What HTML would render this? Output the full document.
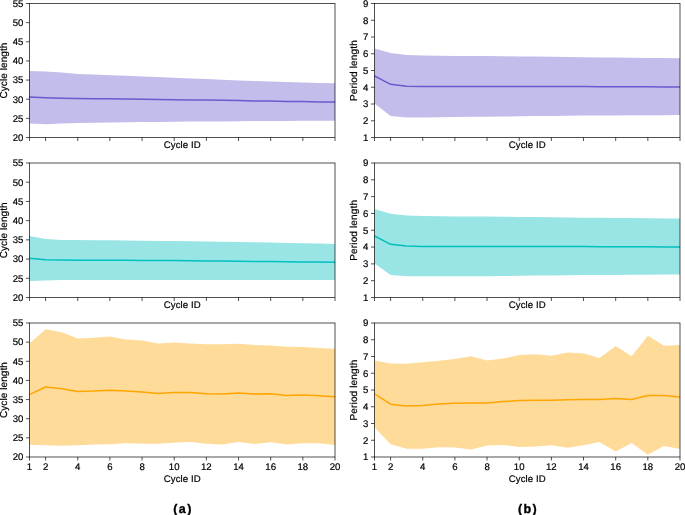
<!DOCTYPE html><html><head><meta charset="utf-8"><style>
html,body{margin:0;padding:0;background:#fff;width:685px;height:515px;overflow:hidden}
svg{display:block;will-change:transform}
text{font-family:"Liberation Sans", sans-serif;fill:#000;stroke:#000;stroke-width:0.2px;stroke-linejoin:round;text-rendering:geometricPrecision}
</style></head><body>
<svg width="685" height="515" viewBox="0 0 685 515">
<rect width="685" height="515" fill="#fff"/>
<polygon points="29.5,70.9 45.58,71.4 61.66,72.4 77.74,73.9 93.82,74.6 109.89,75.2 125.97,75.8 142.05,76.5 158.13,77.1 174.21,77.8 190.29,78.5 206.37,79.1 222.45,79.8 238.53,80.6 254.61,81.1 270.68,81.6 286.76,82 302.84,82.5 318.92,82.9 335,83.3 335,120.7 318.92,120.75 302.84,120.8 286.76,120.9 270.68,121 254.61,121.1 238.53,121.2 222.45,121.4 206.37,121.5 190.29,121.6 174.21,121.7 158.13,121.9 142.05,122 125.97,122.2 109.89,122.5 93.82,122.8 77.74,123.1 61.66,123.5 45.58,124.2 29.5,123.5" fill="#c3bdeb"/>
<clipPath id="cL0"><rect x="29.5" y="3.5" width="305.5" height="134"/></clipPath>
<polyline clip-path="url(#cL0)" points="29.5,96.9 45.58,97.7 61.66,98.2 77.74,98.5 93.82,98.7 109.89,98.8 125.97,99.1 142.05,99.3 158.13,99.5 174.21,99.7 190.29,99.9 206.37,100.1 222.45,100.3 238.53,100.6 254.61,100.9 270.68,101.1 286.76,101.4 302.84,101.6 318.92,101.9 335,102.1" fill="none" stroke="#6a5acd" stroke-width="1.5" stroke-linejoin="round" stroke-linecap="square"/>
<rect x="29.5" y="3.5" width="305.5" height="134" fill="none" stroke="#000" stroke-width="0.68"/>
<path d="M29.5 137.5v3.5M45.58 137.5v3.5M77.74 137.5v3.5M109.89 137.5v3.5M142.05 137.5v3.5M174.21 137.5v3.5M206.37 137.5v3.5M238.53 137.5v3.5M270.68 137.5v3.5M302.84 137.5v3.5M335 137.5v3.5M26 137.5h3.5M26 118.36h3.5M26 99.21h3.5M26 80.07h3.5M26 60.93h3.5M26 41.79h3.5M26 22.64h3.5M26 3.5h3.5" stroke="#000" stroke-width="0.68" fill="none"/>
<text x="23.4" y="140.8" font-size="9.6" text-anchor="end">20</text>
<text x="23.4" y="121.66" font-size="9.6" text-anchor="end">25</text>
<text x="23.4" y="102.51" font-size="9.6" text-anchor="end">30</text>
<text x="23.4" y="83.37" font-size="9.6" text-anchor="end">35</text>
<text x="23.4" y="64.23" font-size="9.6" text-anchor="end">40</text>
<text x="23.4" y="45.09" font-size="9.6" text-anchor="end">45</text>
<text x="23.4" y="25.94" font-size="9.6" text-anchor="end">50</text>
<text x="23.4" y="6.8" font-size="9.6" text-anchor="end">55</text>
<text x="182.31" y="148.2" font-size="9.6" letter-spacing="0.12" text-anchor="middle">Cycle ID</text>
<text transform="translate(6.7 70.54) rotate(-90)" font-size="10" text-anchor="middle" letter-spacing="0.08">Cycle length</text>
<polygon points="374.5,48.6 390.58,52.9 406.66,54.9 422.74,55.4 438.82,55.7 454.89,55.9 470.97,56 487.05,56.1 503.13,56.3 519.21,56.5 535.29,56.6 551.37,56.8 567.45,57 583.53,57.2 599.61,57.4 615.68,57.6 631.76,57.7 647.84,57.9 663.92,58 680,58.2 680,115.1 663.92,115.15 647.84,115.2 631.76,115.3 615.68,115.4 599.61,115.5 583.53,115.6 567.45,115.7 551.37,115.9 535.29,116.1 519.21,116.3 503.13,116.5 487.05,116.7 470.97,116.8 454.89,117 438.82,117.3 422.74,117.6 406.66,117.6 390.58,116 374.5,103.6" fill="#c3bdeb"/>
<clipPath id="cR0"><rect x="374.5" y="3.5" width="305.5" height="134"/></clipPath>
<polyline clip-path="url(#cR0)" points="374.5,76 390.58,84.3 406.66,86.2 422.74,86.6 438.82,86.6 454.89,86.6 470.97,86.5 487.05,86.4 503.13,86.4 519.21,86.4 535.29,86.5 551.37,86.5 567.45,86.6 583.53,86.6 599.61,86.7 615.68,86.7 631.76,86.8 647.84,86.8 663.92,86.9 680,86.9" fill="none" stroke="#6a5acd" stroke-width="1.5" stroke-linejoin="round" stroke-linecap="square"/>
<rect x="374.5" y="3.5" width="305.5" height="134" fill="none" stroke="#000" stroke-width="0.68"/>
<path d="M374.5 137.5v3.5M390.58 137.5v3.5M422.74 137.5v3.5M454.89 137.5v3.5M487.05 137.5v3.5M519.21 137.5v3.5M551.37 137.5v3.5M583.53 137.5v3.5M615.68 137.5v3.5M647.84 137.5v3.5M680 137.5v3.5M371 137.5h3.5M371 120.75h3.5M371 104h3.5M371 87.25h3.5M371 70.5h3.5M371 53.75h3.5M371 37h3.5M371 20.25h3.5M371 3.5h3.5" stroke="#000" stroke-width="0.68" fill="none"/>
<text x="368.4" y="140.8" font-size="9.6" text-anchor="end">1</text>
<text x="368.4" y="124.05" font-size="9.6" text-anchor="end">2</text>
<text x="368.4" y="107.3" font-size="9.6" text-anchor="end">3</text>
<text x="368.4" y="90.55" font-size="9.6" text-anchor="end">4</text>
<text x="368.4" y="73.8" font-size="9.6" text-anchor="end">5</text>
<text x="368.4" y="57.05" font-size="9.6" text-anchor="end">6</text>
<text x="368.4" y="40.3" font-size="9.6" text-anchor="end">7</text>
<text x="368.4" y="23.55" font-size="9.6" text-anchor="end">8</text>
<text x="368.4" y="6.8" font-size="9.6" text-anchor="end">9</text>
<text x="527.31" y="148.2" font-size="9.6" letter-spacing="0.12" text-anchor="middle">Cycle ID</text>
<text transform="translate(357.4 70.58) rotate(-90)" font-size="10" text-anchor="middle" letter-spacing="0.15">Period length</text>
<polygon points="29.5,235.9 45.58,239.1 61.66,239.9 77.74,240.1 93.82,240.2 109.89,240.3 125.97,240.5 142.05,240.7 158.13,240.9 174.21,241.1 190.29,241.3 206.37,241.5 222.45,241.7 238.53,241.9 254.61,242.2 270.68,242.5 286.76,242.9 302.84,243.2 318.92,243.6 335,243.9 335,280.1 318.92,280.1 302.84,280 286.76,280 270.68,280 254.61,279.9 238.53,279.9 222.45,279.9 206.37,279.9 190.29,279.9 174.21,279.9 158.13,279.9 142.05,279.9 125.97,279.9 109.89,279.9 93.82,279.9 77.74,279.9 61.66,279.9 45.58,280.4 29.5,280.9" fill="#99e5e5"/>
<clipPath id="cL1"><rect x="29.5" y="163" width="305.5" height="134.5"/></clipPath>
<polyline clip-path="url(#cL1)" points="29.5,258.2 45.58,259.7 61.66,260 77.74,260.2 93.82,260.2 109.89,260.2 125.97,260.3 142.05,260.4 158.13,260.5 174.21,260.6 190.29,260.8 206.37,260.9 222.45,261.1 238.53,261.3 254.61,261.5 270.68,261.6 286.76,261.8 302.84,262 318.92,262.1 335,262.3" fill="none" stroke="#00bfbf" stroke-width="1.5" stroke-linejoin="round" stroke-linecap="square"/>
<rect x="29.5" y="163" width="305.5" height="134.5" fill="none" stroke="#000" stroke-width="0.68"/>
<path d="M29.5 297.5v3.5M45.58 297.5v3.5M77.74 297.5v3.5M109.89 297.5v3.5M142.05 297.5v3.5M174.21 297.5v3.5M206.37 297.5v3.5M238.53 297.5v3.5M270.68 297.5v3.5M302.84 297.5v3.5M335 297.5v3.5M26 297.5h3.5M26 278.29h3.5M26 259.07h3.5M26 239.86h3.5M26 220.64h3.5M26 201.43h3.5M26 182.21h3.5M26 163h3.5" stroke="#000" stroke-width="0.68" fill="none"/>
<text x="23.4" y="300.8" font-size="9.6" text-anchor="end">20</text>
<text x="23.4" y="281.59" font-size="9.6" text-anchor="end">25</text>
<text x="23.4" y="262.37" font-size="9.6" text-anchor="end">30</text>
<text x="23.4" y="243.16" font-size="9.6" text-anchor="end">35</text>
<text x="23.4" y="223.94" font-size="9.6" text-anchor="end">40</text>
<text x="23.4" y="204.73" font-size="9.6" text-anchor="end">45</text>
<text x="23.4" y="185.51" font-size="9.6" text-anchor="end">50</text>
<text x="23.4" y="166.3" font-size="9.6" text-anchor="end">55</text>
<text x="182.31" y="308.2" font-size="9.6" letter-spacing="0.12" text-anchor="middle">Cycle ID</text>
<text transform="translate(6.7 230.29) rotate(-90)" font-size="10" text-anchor="middle" letter-spacing="0.08">Cycle length</text>
<polygon points="374.5,209.1 390.58,213.7 406.66,215.4 422.74,216 438.82,216.2 454.89,216.4 470.97,216.5 487.05,216.6 503.13,216.8 519.21,216.9 535.29,217.1 551.37,217.3 567.45,217.5 583.53,217.7 599.61,217.8 615.68,218 631.76,218.1 647.84,218.2 663.92,218.4 680,218.5 680,274.6 663.92,274.6 647.84,274.7 631.76,274.8 615.68,274.9 599.61,275 583.53,275.1 567.45,275.2 551.37,275.4 535.29,275.6 519.21,275.8 503.13,276 487.05,276.2 470.97,276.3 454.89,276.3 438.82,276.3 422.74,276.3 406.66,276.3 390.58,275.1 374.5,263.6" fill="#99e5e5"/>
<clipPath id="cR1"><rect x="374.5" y="163" width="305.5" height="134.5"/></clipPath>
<polyline clip-path="url(#cR1)" points="374.5,236 390.58,244.3 406.66,245.9 422.74,246.6 438.82,246.6 454.89,246.6 470.97,246.6 487.05,246.6 503.13,246.6 519.21,246.6 535.29,246.6 551.37,246.6 567.45,246.6 583.53,246.6 599.61,246.7 615.68,246.7 631.76,246.8 647.84,246.8 663.92,246.9 680,246.9" fill="none" stroke="#00bfbf" stroke-width="1.5" stroke-linejoin="round" stroke-linecap="square"/>
<rect x="374.5" y="163" width="305.5" height="134.5" fill="none" stroke="#000" stroke-width="0.68"/>
<path d="M374.5 297.5v3.5M390.58 297.5v3.5M422.74 297.5v3.5M454.89 297.5v3.5M487.05 297.5v3.5M519.21 297.5v3.5M551.37 297.5v3.5M583.53 297.5v3.5M615.68 297.5v3.5M647.84 297.5v3.5M680 297.5v3.5M371 297.5h3.5M371 280.69h3.5M371 263.88h3.5M371 247.06h3.5M371 230.25h3.5M371 213.44h3.5M371 196.62h3.5M371 179.81h3.5M371 163h3.5" stroke="#000" stroke-width="0.68" fill="none"/>
<text x="368.4" y="300.8" font-size="9.6" text-anchor="end">1</text>
<text x="368.4" y="283.99" font-size="9.6" text-anchor="end">2</text>
<text x="368.4" y="267.18" font-size="9.6" text-anchor="end">3</text>
<text x="368.4" y="250.36" font-size="9.6" text-anchor="end">4</text>
<text x="368.4" y="233.55" font-size="9.6" text-anchor="end">5</text>
<text x="368.4" y="216.74" font-size="9.6" text-anchor="end">6</text>
<text x="368.4" y="199.93" font-size="9.6" text-anchor="end">7</text>
<text x="368.4" y="183.11" font-size="9.6" text-anchor="end">8</text>
<text x="368.4" y="166.3" font-size="9.6" text-anchor="end">9</text>
<text x="527.31" y="308.2" font-size="9.6" letter-spacing="0.12" text-anchor="middle">Cycle ID</text>
<text transform="translate(357.4 230.32) rotate(-90)" font-size="10" text-anchor="middle" letter-spacing="0.15">Period length</text>
<polygon points="29.5,343.6 45.58,329.2 61.66,332.3 77.74,338.4 93.82,337.8 109.89,336.4 125.97,339.5 142.05,340.5 158.13,343.6 174.21,342.6 190.29,343.4 206.37,344.2 222.45,344.2 238.53,343.8 254.61,344.9 270.68,345.6 286.76,346.7 302.84,347 318.92,348.1 335,348.8 335,445 318.92,443.2 302.84,443.2 286.76,444.6 270.68,442.2 254.61,443.9 238.53,441.9 222.45,444.4 206.37,443.7 190.29,441.9 174.21,442.7 158.13,443.8 142.05,443.7 125.97,443.2 109.89,444.2 93.82,444.6 77.74,445.2 61.66,445.8 45.58,445.2 29.5,444.8" fill="#ffdb99"/>
<clipPath id="cL2"><rect x="29.5" y="323" width="305.5" height="134"/></clipPath>
<polyline clip-path="url(#cL2)" points="29.5,394.6 45.58,387 61.66,388.8 77.74,391.4 93.82,391 109.89,390.2 125.97,391.1 142.05,391.9 158.13,393.5 174.21,392.6 190.29,392.5 206.37,393.7 222.45,394 238.53,392.9 254.61,394 270.68,393.7 286.76,395.4 302.84,395.1 318.92,395.8 335,396.8" fill="none" stroke="#ffa500" stroke-width="1.5" stroke-linejoin="round" stroke-linecap="square"/>
<rect x="29.5" y="323" width="305.5" height="134" fill="none" stroke="#000" stroke-width="0.68"/>
<path d="M29.5 457v3.5M45.58 457v3.5M77.74 457v3.5M109.89 457v3.5M142.05 457v3.5M174.21 457v3.5M206.37 457v3.5M238.53 457v3.5M270.68 457v3.5M302.84 457v3.5M335 457v3.5M26 457h3.5M26 437.86h3.5M26 418.71h3.5M26 399.57h3.5M26 380.43h3.5M26 361.29h3.5M26 342.14h3.5M26 323h3.5" stroke="#000" stroke-width="0.68" fill="none"/>
<text x="23.4" y="460.3" font-size="9.6" text-anchor="end">20</text>
<text x="23.4" y="441.16" font-size="9.6" text-anchor="end">25</text>
<text x="23.4" y="422.01" font-size="9.6" text-anchor="end">30</text>
<text x="23.4" y="402.87" font-size="9.6" text-anchor="end">35</text>
<text x="23.4" y="383.73" font-size="9.6" text-anchor="end">40</text>
<text x="23.4" y="364.59" font-size="9.6" text-anchor="end">45</text>
<text x="23.4" y="345.44" font-size="9.6" text-anchor="end">50</text>
<text x="23.4" y="326.3" font-size="9.6" text-anchor="end">55</text>
<text x="29.5" y="469.85" font-size="9.6" text-anchor="middle">1</text>
<text x="45.58" y="469.85" font-size="9.6" text-anchor="middle">2</text>
<text x="77.74" y="469.85" font-size="9.6" text-anchor="middle">4</text>
<text x="109.89" y="469.85" font-size="9.6" text-anchor="middle">6</text>
<text x="142.05" y="469.85" font-size="9.6" text-anchor="middle">8</text>
<text x="174.21" y="469.85" font-size="9.6" text-anchor="middle">10</text>
<text x="206.37" y="469.85" font-size="9.6" text-anchor="middle">12</text>
<text x="238.53" y="469.85" font-size="9.6" text-anchor="middle">14</text>
<text x="270.68" y="469.85" font-size="9.6" text-anchor="middle">16</text>
<text x="302.84" y="469.85" font-size="9.6" text-anchor="middle">18</text>
<text x="335" y="469.85" font-size="9.6" text-anchor="middle">20</text>
<text x="182.31" y="482.2" font-size="9.6" letter-spacing="0.12" text-anchor="middle">Cycle ID</text>
<text transform="translate(6.7 390.04) rotate(-90)" font-size="10" text-anchor="middle" letter-spacing="0.08">Cycle length</text>
<polygon points="374.5,360.5 390.58,363.4 406.66,363.8 422.74,362.3 438.82,360.7 454.89,359 470.97,356.3 487.05,360.5 503.13,358.4 519.21,355.1 535.29,354.3 551.37,355.8 567.45,352.5 583.53,353.4 599.61,358 615.68,346.1 631.76,356.2 647.84,335.8 663.92,345.8 680,345.1 680,448.9 663.92,446.1 647.84,454.8 631.76,443 615.68,451.4 599.61,441.9 583.53,445.2 567.45,447.8 551.37,445.2 535.29,446.6 519.21,446.9 503.13,444.9 487.05,445.4 470.97,449.6 454.89,447.5 438.82,447.2 422.74,448.7 406.66,448.7 390.58,444.3 374.5,427.3" fill="#ffdb99"/>
<clipPath id="cR2"><rect x="374.5" y="323" width="305.5" height="134"/></clipPath>
<polyline clip-path="url(#cR2)" points="374.5,393.8 390.58,404.2 406.66,405.9 422.74,405.5 438.82,403.9 454.89,403.3 470.97,402.9 487.05,403.1 503.13,401.6 519.21,400.6 535.29,400.2 551.37,400.2 567.45,399.8 583.53,399.4 599.61,399.6 615.68,398.5 631.76,399.6 647.84,395.4 663.92,395.4 680,397.1" fill="none" stroke="#ffa500" stroke-width="1.5" stroke-linejoin="round" stroke-linecap="square"/>
<rect x="374.5" y="323" width="305.5" height="134" fill="none" stroke="#000" stroke-width="0.68"/>
<path d="M374.5 457v3.5M390.58 457v3.5M422.74 457v3.5M454.89 457v3.5M487.05 457v3.5M519.21 457v3.5M551.37 457v3.5M583.53 457v3.5M615.68 457v3.5M647.84 457v3.5M680 457v3.5M371 457h3.5M371 440.25h3.5M371 423.5h3.5M371 406.75h3.5M371 390h3.5M371 373.25h3.5M371 356.5h3.5M371 339.75h3.5M371 323h3.5" stroke="#000" stroke-width="0.68" fill="none"/>
<text x="368.4" y="460.3" font-size="9.6" text-anchor="end">1</text>
<text x="368.4" y="443.55" font-size="9.6" text-anchor="end">2</text>
<text x="368.4" y="426.8" font-size="9.6" text-anchor="end">3</text>
<text x="368.4" y="410.05" font-size="9.6" text-anchor="end">4</text>
<text x="368.4" y="393.3" font-size="9.6" text-anchor="end">5</text>
<text x="368.4" y="376.55" font-size="9.6" text-anchor="end">6</text>
<text x="368.4" y="359.8" font-size="9.6" text-anchor="end">7</text>
<text x="368.4" y="343.05" font-size="9.6" text-anchor="end">8</text>
<text x="368.4" y="326.3" font-size="9.6" text-anchor="end">9</text>
<text x="374.5" y="469.85" font-size="9.6" text-anchor="middle">1</text>
<text x="390.58" y="469.85" font-size="9.6" text-anchor="middle">2</text>
<text x="422.74" y="469.85" font-size="9.6" text-anchor="middle">4</text>
<text x="454.89" y="469.85" font-size="9.6" text-anchor="middle">6</text>
<text x="487.05" y="469.85" font-size="9.6" text-anchor="middle">8</text>
<text x="519.21" y="469.85" font-size="9.6" text-anchor="middle">10</text>
<text x="551.37" y="469.85" font-size="9.6" text-anchor="middle">12</text>
<text x="583.53" y="469.85" font-size="9.6" text-anchor="middle">14</text>
<text x="615.68" y="469.85" font-size="9.6" text-anchor="middle">16</text>
<text x="647.84" y="469.85" font-size="9.6" text-anchor="middle">18</text>
<text x="680" y="469.85" font-size="9.6" text-anchor="middle">20</text>
<text x="527.31" y="482.2" font-size="9.6" letter-spacing="0.12" text-anchor="middle">Cycle ID</text>
<text transform="translate(357.4 390.07) rotate(-90)" font-size="10" text-anchor="middle" letter-spacing="0.15">Period length</text>
<text x="183.0" y="512.8" font-size="12.5" font-weight="bold" text-anchor="middle" letter-spacing="1.4" style="stroke-width:0.35px">(a)</text>
<text x="528.0" y="512.8" font-size="12.5" font-weight="bold" text-anchor="middle" letter-spacing="1.4" style="stroke-width:0.35px">(b)</text>
</svg></body></html>
